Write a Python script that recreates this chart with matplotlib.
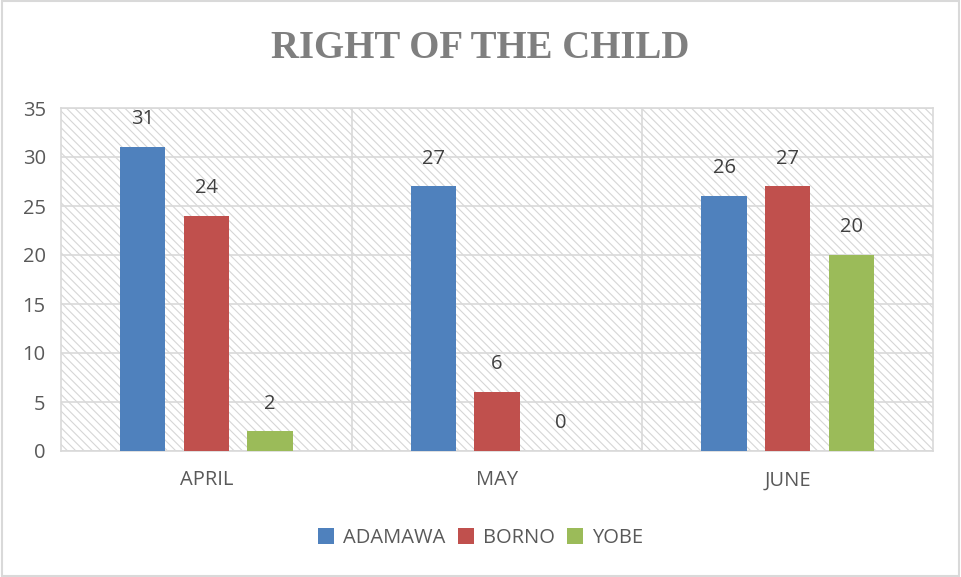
import matplotlib
matplotlib.use("Agg")
import matplotlib.pyplot as plt
from matplotlib.patches import Rectangle
import numpy as np

months = ["APRIL", "MAY", "JUNE"]
states = ["ADAMAWA", "BORNO", "YOBE"]
adamawa = [31, 27, 26]
borno = [24, 6, 27]
yobe = [2, 0, 20]
colors = ["#4F81BD", "#C0504D", "#9BBB59"]

plt.rcParams["font.family"] = ["Open Sans", "DejaVu Sans"]
plt.rcParams["hatch.color"] = "#d6d6d6"
plt.rcParams["hatch.linewidth"] = 0.8

fig = plt.figure(figsize=(9.61, 5.77), dpi=100)
ax = fig.add_axes([61 / 961, 1 - 451 / 577, (933 - 61) / 961, (451 - 108) / 577])

# hatched plot background
bg = Rectangle((0, 0), 1, 1, transform=ax.transAxes, facecolor="white",
               edgecolor="#d6d6d6", hatch="\\\\\\\\", linewidth=0, zorder=0)
ax.add_patch(bg)

x = np.arange(len(months))
width = 0.155
step = 0.219
for i, (vals, name) in enumerate(zip([adamawa, borno, yobe], states)):
    pos = x + (i - 1) * step
    bars = ax.bar(pos, vals, width, color=colors[i], label=name, zorder=3)
    for b, v in zip(bars, vals):
        ax.annotate(str(v), (b.get_x() + b.get_width() / 2, v),
                    xytext=(0, 20), textcoords="offset points",
                    ha="center", va="center", fontsize=14.5, color="#404040")

ax.set_xlim(-0.5, 2.5)
ax.set_ylim(0, 35)
ax.set_yticks(range(0, 36, 5))
ax.set_xticks(x)
ax.set_xticklabels(months)
ax.tick_params(axis="both", length=0, labelsize=14.5, labelcolor="#595959")
ax.tick_params(axis="x", pad=14)
ax.tick_params(axis="y", pad=11)

ax.grid(axis="y", color="#d9d9d9", linewidth=1.2, zorder=1)
for b in [0.5, 1.5]:
    ax.axvline(b, color="#d9d9d9", linewidth=1.2, zorder=1)
ax.set_axisbelow(True)
for s in ax.spines.values():
    s.set_color("#d9d9d9")
    s.set_linewidth(1.2)

fig.text(0.5, 1 - 48 / 577, "RIGHT OF THE CHILD", ha="center", va="center",
         fontsize=28, fontweight="bold", color="#7f7f7f",
         family=["Liberation Serif", "DejaVu Serif"])

fig.legend(loc="center", bbox_to_anchor=(0.5, 1 - 538 / 577), ncol=3,
           frameon=False, fontsize=14.5, handlelength=0.8, handleheight=0.8,
           handletextpad=0.45, columnspacing=0.6, labelcolor="#595959")

# outer chart border
fig.patches.append(Rectangle((0.002, 0.002), 0.996, 0.996, transform=fig.transFigure,
                             fill=False, edgecolor="#d9d9d9", linewidth=1.5))

fig.savefig("out.png", dpi=100)
